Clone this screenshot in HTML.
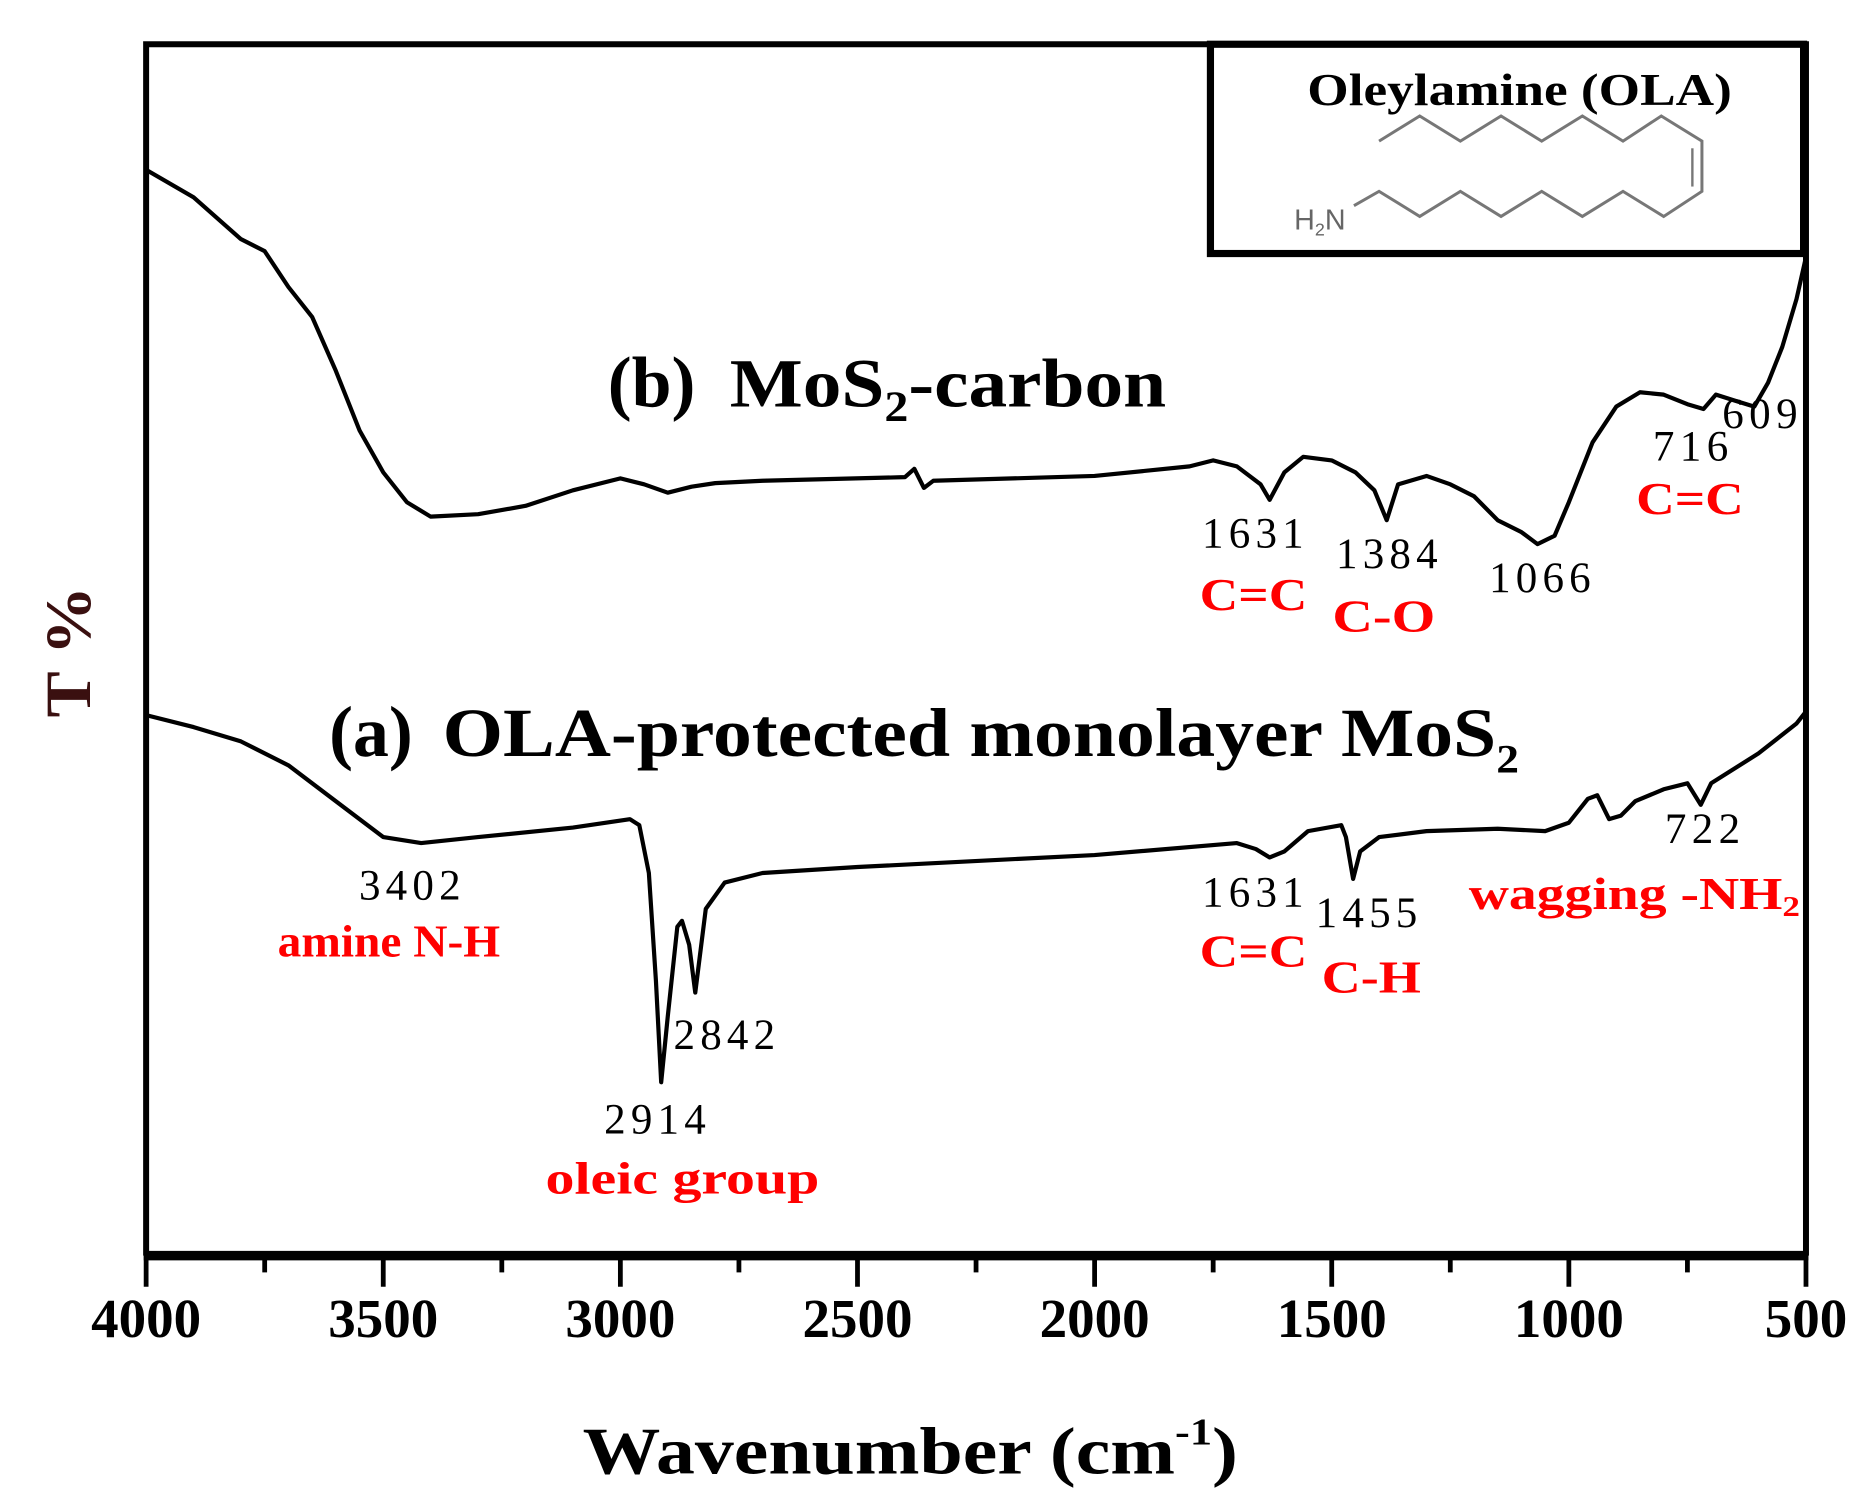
<!DOCTYPE html>
<html><head><meta charset="utf-8"><style>
html,body{margin:0;padding:0;background:#fff;}
svg{display:block;font-family:"Liberation Serif",serif;}
</style></head><body>
<svg id="chart" width="1866" height="1502" viewBox="0 0 1560 1256" xmlns="http://www.w3.org/2000/svg">
<rect x="0" y="0" width="1560" height="1256" fill="#fff"/>
<g id="plot"></g>
<g id="inset">
  <rect x="1012" y="37" width="496" height="175" fill="#fff" stroke="#000" stroke-width="6"/>
  <text x="1093" y="88" font-size="38" font-weight="bold" textLength="355" lengthAdjust="spacingAndGlyphs">Oleylamine (OLA)</text>
  <polyline points="1153,118 1187,97 1221,118 1255,97 1289,118 1323,97 1357,118 1389,97 1423,118 1423,160 1391,181 1357,160 1323,181 1289,160 1255,181 1221,160 1187,181 1153,160 1132,172" fill="none" stroke="#777" stroke-width="2.5"/>
  <line x1="1415" y1="124" x2="1415" y2="156" stroke="#777" stroke-width="2"/>
  <text x="1082" y="192" font-size="24" fill="#666" font-family="Liberation Sans, sans-serif">H<tspan font-size="15" dy="5">2</tspan><tspan dy="-5">N</tspan></text>
</g>
<g font-weight="bold">
  <text x="508" y="340" font-size="60">(b)</text>
  <text x="610" y="340" font-size="58" textLength="365" lengthAdjust="spacingAndGlyphs">MoS<tspan font-size="36" dy="12">2</tspan><tspan dy="-12">-carbon</tspan></text>
  <text x="275" y="632" font-size="60">(a)</text>
  <text x="370" y="632" font-size="58" textLength="900" lengthAdjust="spacingAndGlyphs">OLA-protected monolayer MoS<tspan font-size="34" dy="14">2</tspan></text>
</g>
<g font-size="36" lengthAdjust="spacingAndGlyphs">
  <text x="1005" y="458" textLength="85">1631</text>
  <text x="1117" y="475" textLength="85">1384</text>
  <text x="1245" y="495" textLength="85">1066</text>
  <text x="1382" y="385" textLength="63">716</text>
  <text x="1440" y="358" textLength="63">609</text>
  <text x="300" y="752" textLength="85">3402</text>
  <text x="563" y="877" textLength="85">2842</text>
  <text x="505" y="948" textLength="85">2914</text>
  <text x="1005" y="758" textLength="85">1631</text>
  <text x="1100" y="775" textLength="85">1455</text>
  <text x="1392" y="705" textLength="63">722</text>
</g>
<g font-size="38" font-weight="bold" fill="#ff0000">
  <text x="1003" y="510" textLength="90" lengthAdjust="spacingAndGlyphs">C=C</text>
  <text x="1114" y="528" textLength="86" lengthAdjust="spacingAndGlyphs">C-O</text>
  <text x="1368" y="430" textLength="90" lengthAdjust="spacingAndGlyphs">C=C</text>
  <text x="232" y="800" textLength="186" lengthAdjust="spacingAndGlyphs">amine N-H</text>
  <text x="456" y="998" textLength="229" lengthAdjust="spacingAndGlyphs">oleic group</text>
  <text x="1003" y="808" textLength="90" lengthAdjust="spacingAndGlyphs">C=C</text>
  <text x="1105" y="830" textLength="83" lengthAdjust="spacingAndGlyphs">C-H</text>
  <text x="1228" y="760" textLength="277" lengthAdjust="spacingAndGlyphs">wagging -NH<tspan font-size="24" dy="6">2</tspan></text>
</g>
<text x="75" y="545" font-size="54" font-weight="bold" fill="#3a1010" transform="rotate(-90 75 545)" text-anchor="middle" textLength="110" lengthAdjust="spacingAndGlyphs">T %</text>
<text x="487" y="1232" font-size="56" font-weight="bold" textLength="548" lengthAdjust="spacingAndGlyphs">Wavenumber (cm<tspan font-size="32" dy="-24">-1</tspan><tspan dy="24">)</tspan></text>
</svg>
<script>
const xTicks = [4000, 3500, 3000, 2500, 2000, 1500, 1000, 500];
const xTickLabels = ["4000", "3500", "3000", "2500", "2000", "1500", "1000", "500"];
const waveB = [4000,3900,3800,3750,3700,3650,3600,3550,3500,3450,3400,3300,3200,3100,3000,2950,2900,2850,2800,2700,2400,2380,2360,2340,2000,1800,1750,1700,1650,1631,1600,1560,1500,1450,1410,1384,1360,1300,1250,1200,1150,1100,1066,1030,1000,950,900,850,800,750,716,690,650,609,580,550,520,500];
const transB = [90.8,88.5,85,84,81,78.5,74,69,65.5,63,61.8,62,62.7,64,65,64.5,63.8,64.3,64.6,64.8,65.1,65.8,64.2,64.8,65.2,66,66.5,66,64.5,63.2,65.5,66.8,66.5,65.5,64,61.5,64.5,65.2,64.5,63.5,61.5,60.5,59.5,60.2,63,68,71,72.2,72,71.2,70.8,72,71.5,71,73,76,80,83.5];
const waveA = [4000,3900,3800,3700,3600,3500,3420,3300,3100,2980,2960,2940,2925,2914,2900,2880,2870,2855,2842,2820,2780,2700,2500,2000,1700,1660,1631,1600,1550,1480,1470,1455,1440,1400,1300,1150,1050,1000,960,940,915,890,860,800,750,722,700,600,520,500];
const transA = [45.2,44.2,43,41,38,35,34.5,35,35.8,36.5,36,32,23,14.5,20,27.5,28,26,22,29,31.2,32,32.5,33.5,34.5,34,33.3,33.8,35.5,36,35,31.5,33.8,35,35.5,35.7,35.5,36.2,38.2,38.5,36.5,36.8,38,39,39.5,37.7,39.5,42,44.5,45.5];

const L = 122, R = 1510, B = 1050, T = 37;
function xPx(w){ return L + (4000 - w) * (R - L) / 3500; }
function yPx(t){ return B - t * 10; }

const NS = "http://www.w3.org/2000/svg";
const plot = document.getElementById("plot");

function path(ws, ts, name){
  let d = "";
  for (let i = 0; i < ws.length; i++) d += (i ? "L" : "M") + xPx(ws[i]).toFixed(1) + "," + yPx(ts[i]).toFixed(1);
  const p = document.createElementNS(NS, "path");
  p.setAttribute("d", d);
  p.setAttribute("fill", "none");
  p.setAttribute("stroke", "#000");
  p.setAttribute("stroke-width", "3.5");
  p.setAttribute("stroke-linejoin", "round");
  
  
  plot.appendChild(p);
}
path(waveB, transB, 'series-b-mos2-carbon');
path(waveA, transA, 'series-a-ola-mos2');

const frame = document.createElementNS(NS, "path");
frame.setAttribute("d", `M${L},${B} L${L},${T} L${R},${T} L${R},${B}`);
frame.setAttribute("fill", "none");
frame.setAttribute("stroke", "#000");
frame.setAttribute("stroke-width", "5");


plot.appendChild(frame);

const xAxis = document.createElementNS(NS, "line");
xAxis.setAttribute("x1", L - 2); xAxis.setAttribute("x2", R + 2);
xAxis.setAttribute("y1", B); xAxis.setAttribute("y2", B);
xAxis.setAttribute("stroke", "#000");
xAxis.setAttribute("stroke-width", "8");


plot.appendChild(xAxis);

for (let w = 4000; w >= 500; w -= 250) {
  const major = (w % 500 === 0);
  const t = document.createElementNS(NS, "line");
  t.setAttribute("x1", xPx(w)); t.setAttribute("x2", xPx(w));
  t.setAttribute("y1", B); t.setAttribute("y2", B + (major ? 26 : 14));
  t.setAttribute("stroke", "#000");
  t.setAttribute("stroke-width", "4");
  
  
  plot.appendChild(t);
}
xTicks.forEach((w, i) => {
  const tx = document.createElementNS(NS, "text");
  tx.setAttribute("x", xPx(w));
  tx.setAttribute("y", 1118);
  tx.setAttribute("text-anchor", "middle");
  tx.setAttribute("font-size", "46");
  tx.setAttribute("font-weight", "bold");
  tx.textContent = xTickLabels[i];
  
  
  plot.appendChild(tx);
});
</script>
</body></html>
